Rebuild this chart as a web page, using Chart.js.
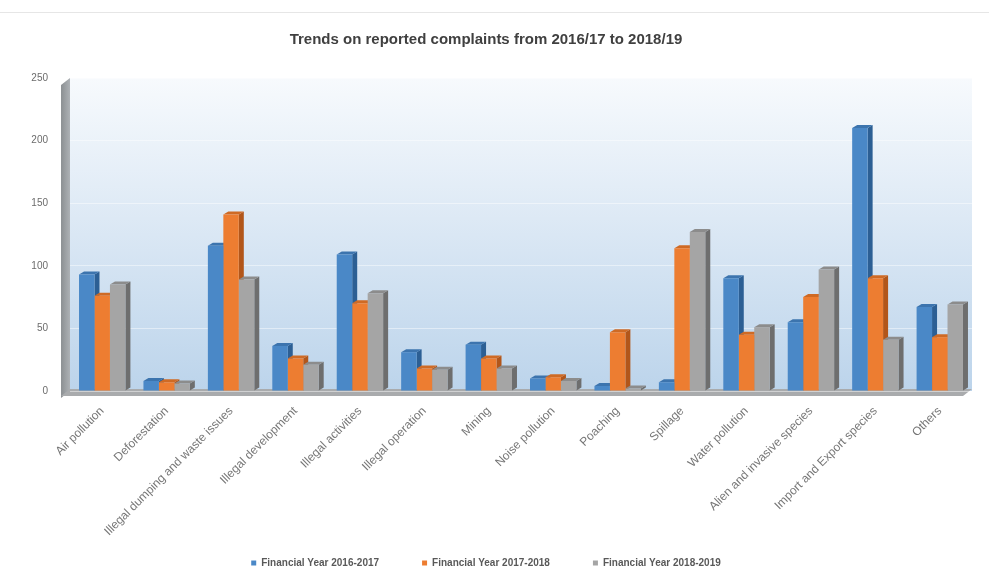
<!DOCTYPE html>
<html lang="en">
<head>
<meta charset="UTF-8">
<title>Trends on reported complaints</title>
<script src="https://cdn.jsdelivr.net/npm/chart.js@4"></script>
<style>
  html, body { margin: 0; padding: 0; background: #fff; }
  #wrap { position: relative; width: 989px; height: 573px; overflow: hidden; }
  #wrap:before { content: ""; position: absolute; left: 0; right: 0; top: 12px; border-top: 1px solid #e6e6e6; }
</style>
</head>
<body>
<div id="wrap"><canvas id="canvas" width="989" height="573"></canvas></div>
<script>
// complaint categories
const categories = [
  'Air pollution', 'Deforestation', 'Illegal dumping and waste issues', 'Illegal development',
  'Illegal activities', 'Illegal operation', 'Mining', 'Noise pollution', 'Poaching', 'Spillage',
  'Water pollution', 'Alien and invasive species', 'Import and Export species', 'Others'
];
const seriesNames = ['Financial Year 2016-2017', 'Financial Year 2017-2018', 'Financial Year 2018-2019'];
const fy2016 = [93, 8, 116, 36, 109, 31, 37, 10, 4, 7, 90, 55, 210, 67];
const fy2017 = [76, 7, 141, 26, 70, 18, 26, 11, 47, 114, 45, 75, 90, 43];
const fy2018 = [85, 6, 89, 21, 78, 17, 18, 8, 2, 127, 51, 97, 41, 69];
const yTicks = [0, 50, 100, 150, 200, 250];

const fronts = ['#4a88c7', '#ed7d31', '#a5a5a5'];
const sides = ['#2c5f94', '#b2561a', '#6e6e6e'];
const tops = ['#3c74ae', '#cf6a24', '#8c8c8c'];
const depth = 5;

// back wall, left wall and floor
const wallsPlugin = {
  id: 'walls',
  afterLayout(chart) {
    // let the slanted category names run down past the legend row
    const x = chart.scales.x;
    x.bottom = chart.height;
    x.height = x.bottom - x.top;
    chart.legend.top += 5;
    chart.legend.bottom += 5;
  },
  beforeDraw(chart) {
    const { ctx, chartArea: a } = chart;
    ctx.save();
    let g = ctx.createLinearGradient(0, a.top, 0, a.bottom);
    g.addColorStop(0, '#f7fafd');
    g.addColorStop(0.45, '#dde9f5');
    g.addColorStop(1, '#bcd4eb');
    ctx.fillStyle = g;
    ctx.fillRect(a.left, a.top, a.right - a.left, a.bottom - a.top);

    // left side wall
    g = ctx.createLinearGradient(a.left - 8, 0, a.left + 2, 0);
    g.addColorStop(0, '#8f9396');
    g.addColorStop(1, '#b5b9bd');
    ctx.fillStyle = g;
    ctx.beginPath();
    ctx.moveTo(a.left - 9, a.top + 7);
    ctx.lineTo(a.left, a.top);
    ctx.lineTo(a.left, a.bottom);
    ctx.lineTo(a.left - 9, a.bottom + 7);
    ctx.closePath();
    ctx.fill();

    // floor
    ctx.fillStyle = '#a9abad';
    ctx.beginPath();
    ctx.moveTo(a.left, a.bottom - 2);
    ctx.lineTo(a.right, a.bottom - 2);
    ctx.lineTo(a.right - 9, a.bottom + 5);
    ctx.lineTo(a.left - 9, a.bottom + 5);
    ctx.closePath();
    ctx.fill();
    ctx.restore();
  }
};

// darker side and top faces behind each bar
const depthPlugin = {
  id: 'depth',
  beforeDatasetsDraw(chart) {
    const ctx = chart.ctx;
    ctx.save();
    chart.data.datasets.forEach((ds, di) => {
      chart.getDatasetMeta(di).data.forEach(bar => {
        const { x, y, base, width } = bar.getProps(['x', 'y', 'base', 'width'], true);
        const l = x - width / 2, r = x + width / 2;
        ctx.fillStyle = sides[di];
        ctx.beginPath();
        ctx.moveTo(r, y);
        ctx.lineTo(r + depth, y - depth * 0.6);
        ctx.lineTo(r + depth, base - depth * 0.6);
        ctx.lineTo(r, base);
        ctx.closePath();
        ctx.fill();
        ctx.fillStyle = tops[di];
        ctx.beginPath();
        ctx.moveTo(l, y);
        ctx.lineTo(l + depth, y - depth * 0.6);
        ctx.lineTo(r + depth, y - depth * 0.6);
        ctx.lineTo(r, y);
        ctx.closePath();
        ctx.fill();
      });
    });
    ctx.restore();
  }
};

const ctx = document.getElementById('canvas').getContext('2d');
const chart = new Chart(ctx, {
  type: 'bar',
  data: {
    labels: categories,
    datasets: [fy2016, fy2017, fy2018].map((values, i) => ({
      label: seriesNames[i],
      data: values,
      backgroundColor: fronts[i],
      borderWidth: 0,
      categoryPercentage: 0.72,
      barPercentage: 1.0
    }))
  },
  options: {
    responsive: false,
    animation: false,
    layout: { padding: { top: 31, right: 17, bottom: 0, left: 0 } },
    plugins: {
      title: {
        display: true,
        text: 'Trends on reported complaints from 2016/17 to 2018/19',
        color: '#404040',
        font: { family: 'Liberation Sans', size: 15, weight: 'bold' },
        padding: { top: 0, bottom: 29 }
      },
      legend: {
        position: 'bottom',
        labels: {
          color: '#595959',
          font: { family: 'Liberation Sans', size: 10, weight: 'bold' },
          boxWidth: 5,
          boxHeight: 5,
          padding: 43
        }
      },
      tooltip: { enabled: false }
    },
    scales: {
      x: {
        grid: { display: false },
        border: { display: false },
        afterFit(axis) { axis.height = 119; },
        ticks: {
          color: '#767676',
          font: { family: 'Liberation Sans', size: 12 },
          minRotation: 45,
          maxRotation: 45,
          padding: 5,
          autoSkip: false
        }
      },
      y: {
        min: 0,
        max: 250,
        afterBuildTicks(axis) { axis.ticks = yTicks.map(v => ({ value: v })); },
        afterFit(axis) { axis.width = 70; },
        grid: { color: 'rgba(255,255,255,0.45)', drawTicks: false },
        border: { display: false },
        ticks: {
          color: '#6b6b6b',
          font: { family: 'Liberation Sans', size: 10 },
          padding: 22
        }
      }
    }
  },
  plugins: [wallsPlugin, depthPlugin]
});
</script>
</body>
</html>
